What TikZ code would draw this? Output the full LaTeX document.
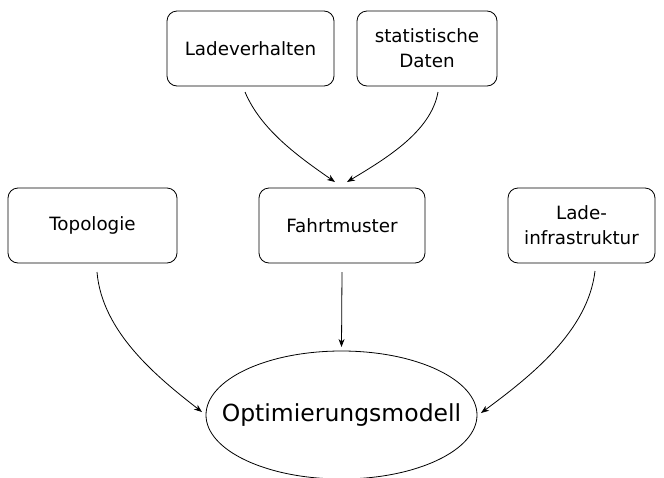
\documentclass[tikz,border=0pt]{standalone}
\usepackage{fontspec}
\setmainfont{DejaVu Sans}
\usetikzlibrary{shapes.geometric,arrows.meta}
\begin{document}
\begin{tikzpicture}[x=1pt,y=-1pt,
  box/.style={draw,rounded corners=10pt,line width=0.8pt,minimum height=75pt,align=center,
    font=\fontsize{18.3}{25}\selectfont,outer sep=6pt,inner sep=0pt},
  conn/.style={line width=0.8pt,-{Stealth[length=8pt,width=6pt,inset=2.5pt]}}]
\useasboundingbox (0,0) rectangle (664,477);
\node[box,minimum width=167pt] (L) at (250.5,48.5) {Ladeverhalten};
\node[box,minimum width=140pt] (S) at (427,48.5) {statistische\\Daten};
\node[box,minimum width=169pt] (T) at (92.5,225.5) {Topologie};
\node[box,minimum width=166pt] (F) at (342,225.5) {Fahrtmuster};
\node[box,minimum width=147pt] (I) at (581.5,225.5) {Lade-\\infrastruktur};
\node[draw,ellipse,line width=0.8pt,minimum width=271pt,minimum height=128pt,inner sep=0pt,
  outer sep=4pt,font=\fontsize{23.5}{28}\selectfont] (O) at (341.5,415) {\makebox[0pt]{Optimierungsmodell}};
\draw[conn] ([xshift=-5.5pt]L.south) .. controls +(16,38) and +(-36,-25) .. ([xshift=-7pt]F.north);
\draw[conn] ([xshift=11pt]S.south) .. controls +(-7,40) and +(38,-23) .. ([xshift=5pt]F.north);
\draw[conn] ([yshift=-3pt]F.south) -- (O.north);
\draw[conn] ([xshift=4.5pt,yshift=-3pt]T.south) .. controls +(5,60) and +(-45,-35) .. ([yshift=3pt]O.west);
\draw[conn] ([xshift=13.5pt,yshift=-2pt]I.south) .. controls +(-7,60) and +(50,-37) .. ([yshift=2pt]O.east);
\end{tikzpicture}
\end{document}
